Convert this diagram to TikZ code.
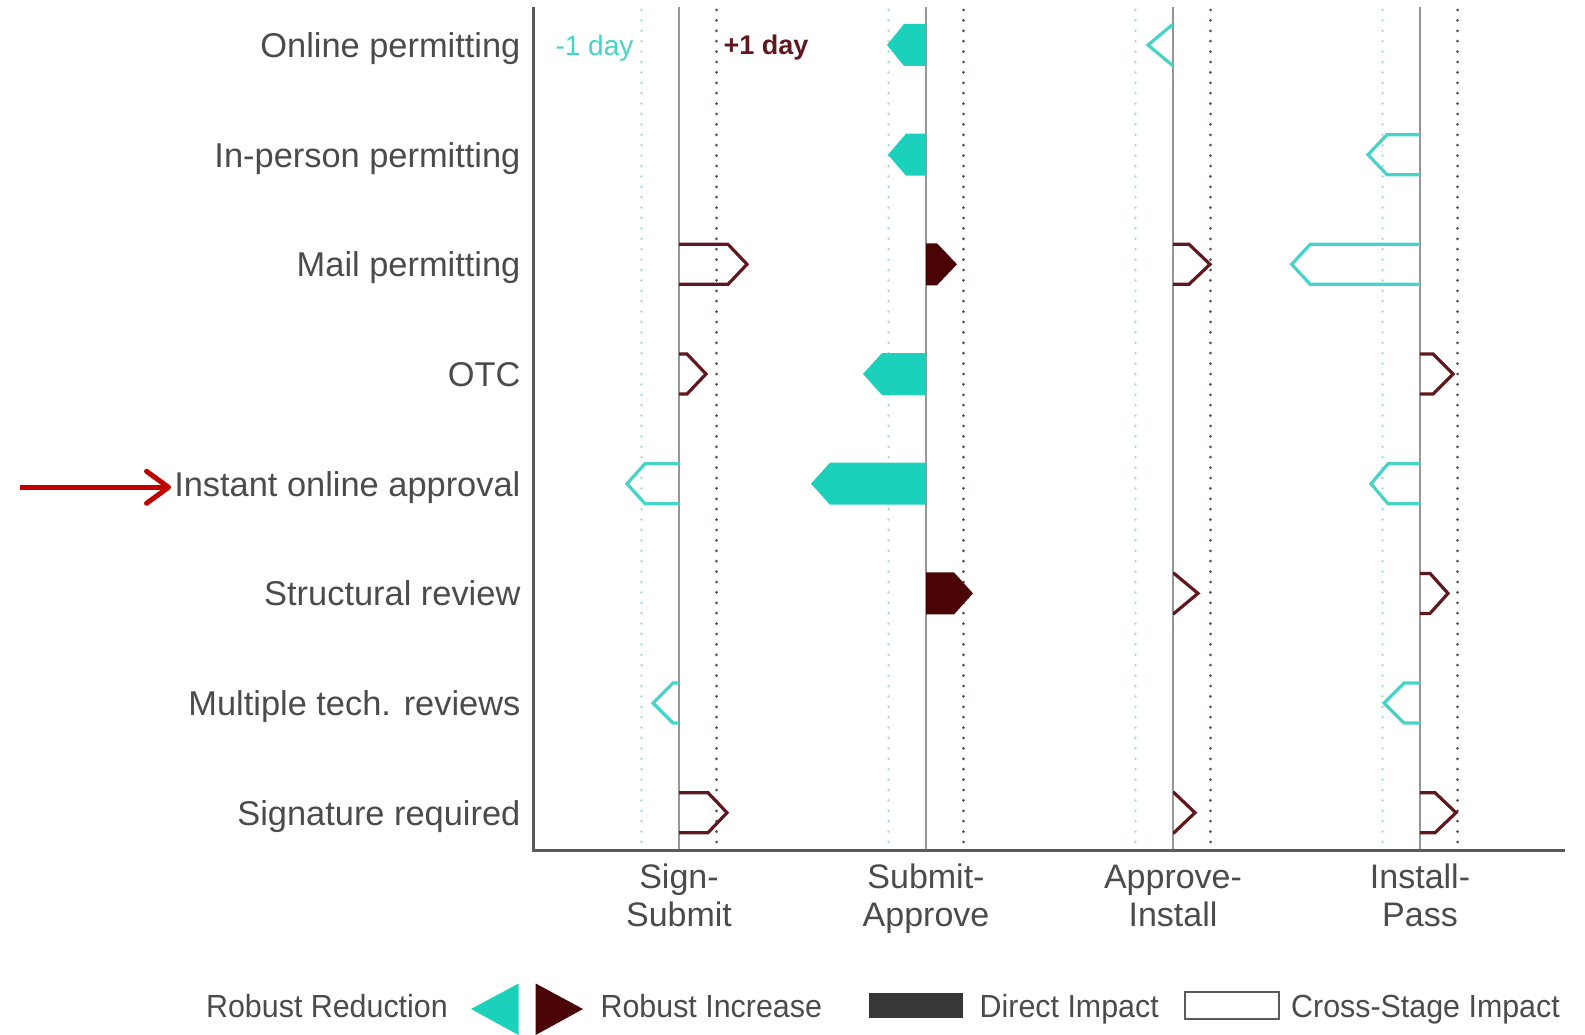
\documentclass[tikz,border=0pt]{standalone}
\usepackage{fontspec}
\setmainfont{Liberation Sans}
\newfontfamily\condfont[FakeStretch=0.95]{Liberation Sans}
\usetikzlibrary{arrows.meta}

\definecolor{cyanfill}{RGB}{27,209,188}
\definecolor{cyanline}{RGB}{70,212,200}
\definecolor{maroonfill}{RGB}{75,4,6}
\definecolor{maroonline}{RGB}{95,25,30}
\definecolor{txtgray}{RGB}{75,75,75}
\definecolor{axisgray}{RGB}{90,90,90}
\definecolor{stagegray}{RGB}{150,150,150}
\definecolor{cyandot}{RGB}{160,215,215}
\definecolor{darkdot}{RGB}{95,72,72}
\definecolor{arrowred}{RGB}{192,0,0}
\definecolor{legenddark}{RGB}{55,55,55}

% solid (direct impact) bar: style, base x, row y, tip x, signed bevel
\newcommand\stageSolid[5]{%
  \fill[#1] (#2,{#3-21}) -- ({#4-(#5)},{#3-21}) -- (#4,#3) -- ({#4-(#5)},{#3+21}) -- (#2,{#3+21}) -- cycle;}
% outlined (cross-stage impact) bar, open at the stage line
\newcommand\stageOpen[5]{%
  \draw[#1] (#2,{#3-20}) -- ({#4-(#5)},{#3-20}) -- (#4,#3) -- ({#4-(#5)},{#3+20}) -- (#2,{#3+20});}

\begin{document}
\begin{tikzpicture}[x=1pt,y=-1pt,
  rowlabel/.style={font=\fontsize{34.4}{40}\selectfont, text=txtgray, inner sep=0pt, anchor=base east},
  stagelabel/.style={font=\fontsize{34}{40}\selectfont, text=txtgray, inner sep=0pt, anchor=base},
  legendtext/.style={font=\condfont\fontsize{32}{36}\selectfont, text=txtgray, inner sep=0pt},
  stageline/.style={draw=stagegray, line width=2pt},
  axisline/.style={draw=axisgray, line width=3pt},
  minusdots/.style={draw=cyandot, line width=2.6pt, dash pattern=on 0pt off 10.4pt, line cap=round},
  plusdots/.style={draw=darkdot, line width=3pt, dash pattern=on 0pt off 10.4pt, line cap=round},
  cyansolid/.style={fill=cyanfill},
  maroonsolid/.style={fill=maroonfill},
  cyanopen/.style={draw=cyanline, line width=3.2pt, line join=miter},
  maroonopen/.style={draw=maroonline, line width=3.2pt, line join=miter},
  pointer/.style={draw=arrowred, line width=5pt, -{Straight Barb[length=22pt,width=32pt,round]}}
]
\useasboundingbox (0,0) rectangle (1585,1035);

% stage centre lines with the -1 day and +1 day guides
\foreach \sx in {679,926,1173,1420} {
  \draw[minusdots] ({\sx-37.5},10) -- ({\sx-37.5},848);
  \draw[plusdots]  ({\sx+37.5},10) -- ({\sx+37.5},848);
  \draw[stageline] (\sx,7) -- (\sx,850);
}

% axes
\draw[axisline] (533,7) -- (533,850.7) -- (1565,850.7);

% day scale labels
\node[font=\fontsize{28}{32}\selectfont, text=cyanline, inner sep=0pt] (minusday) at (594.5,48) {-1 day};
\node[font=\bfseries\fontsize{27}{32}\selectfont, text=maroonline, inner sep=0pt] (plusday) at (766,48) {+1 day};

% row labels
\node[rowlabel] (l1) at (520.6,57.5)  {Online permitting};
\node[rowlabel] (l2) at (520.6,167.2) {In-person permitting};
\node[rowlabel] (l3) at (520.6,276.8) {Mail permitting};
\node[rowlabel] (l4) at (520.6,386.5) {OTC};
\node[rowlabel] (l5) at (520.6,496.2) {Instant online approval};
\node[rowlabel] (l6) at (520.6,605.9) {Structural review};
\node[rowlabel] (l7) at (520.6,715.5) {Multiple tech. reviews};
\node[rowlabel] (l8) at (520.6,825.2) {Signature required};

% stage labels
\node[stagelabel] (s1a) at (679,888.7) {Sign-};
\node[stagelabel] (s1b) at (679,926)   {Submit};
\node[stagelabel] (s2a) at (926,888.7) {Submit-};
\node[stagelabel] (s2b) at (926,926)   {Approve};
\node[stagelabel] (s3a) at (1173,888.7) {Approve-};
\node[stagelabel] (s3b) at (1173,926)   {Install};
\node[stagelabel] (s4a) at (1420,888.7) {Install-};
\node[stagelabel] (s4b) at (1420,926)   {Pass};

% Online permitting
\stageSolid{cyansolid}{926}{45}{887}{-17}
\stageOpen{cyanopen}{1173}{45}{1148}{-24}
% In-person permitting
\stageSolid{cyansolid}{926}{154.7}{888}{-18}
\stageOpen{cyanopen}{1420}{154.7}{1368}{-19}
% Mail permitting
\stageOpen{maroonopen}{679}{264.3}{747}{19}
\stageSolid{maroonsolid}{926}{264.3}{957}{20}
\stageOpen{maroonopen}{1173}{264.3}{1210}{21}
\stageOpen{cyanopen}{1420}{264.3}{1291.7}{-18.5}
% OTC
\stageOpen{maroonopen}{679}{374}{706}{19}
\stageSolid{cyansolid}{926}{374}{863}{-19}
\stageOpen{maroonopen}{1420}{374}{1453}{20}
% Instant online approval
\stageOpen{cyanopen}{679}{483.7}{627}{-18}
\stageSolid{cyansolid}{926}{483.7}{811}{-19}
\stageOpen{cyanopen}{1420}{483.7}{1371}{-17}
% Structural review
\stageSolid{maroonsolid}{926}{593.4}{973}{19}
\stageOpen{maroonopen}{1173}{593.4}{1198}{24}
\stageOpen{maroonopen}{1420}{593.4}{1448}{18}
% Multiple tech. reviews
\stageOpen{cyanopen}{679}{703}{653}{-20}
\stageOpen{cyanopen}{1420}{703}{1384}{-20}
% Signature required
\stageOpen{maroonopen}{679}{812.7}{727}{19}
\stageOpen{maroonopen}{1173}{812.7}{1195}{21}
\stageOpen{maroonopen}{1420}{812.7}{1456}{21}

% pointer to the highlighted row
\coordinate (pointertail) at ([xshift=-154pt]l5.west);
\draw[pointer] (pointertail) -- ([xshift=-3pt]l5.west);

% legend
\node[legendtext, anchor=base east] (lgred) at (448,1017) {Robust Reduction};
\fill[cyanfill] (471,1009) -- (518.6,983.5) -- (518.6,1035) -- cycle;
\fill[maroonfill] (535.7,983.5) -- (583,1009) -- (535.7,1035) -- cycle;
\node[legendtext, anchor=base west] (lginc) at (600.4,1017) {Robust Increase};
\fill[legenddark] (869,993) rectangle (963,1018);
\node[legendtext, anchor=base west] (lgdir) at (979.5,1017) {Direct Impact};
\draw[draw=axisgray, line width=2pt] (1185,992) rectangle (1279,1019);
\node[legendtext, anchor=base west] (lgcross) at (1291,1017) {Cross-Stage Impact};
\end{tikzpicture}
\end{document}
